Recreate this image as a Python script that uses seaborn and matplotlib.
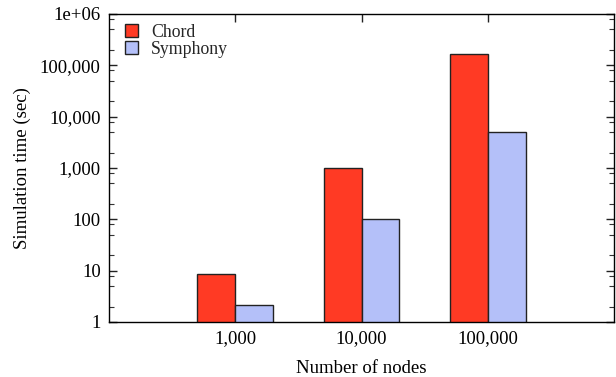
import matplotlib
matplotlib.use("Agg")
import matplotlib.pyplot as plt
import matplotlib.ticker as mticker
from matplotlib.patches import Patch
import seaborn as sns
import pandas as pd
import numpy as np

# ---- data ----
nodes = ["1,000", "10,000", "100,000"]
chord = [8.6, 1000, 168000]
symphony = [2.15, 100, 5000]
series = ["Chord", "Symphony"]
ytick_vals = [1, 10, 100, 1000, 10000, 100000, 1000000]
ytick_labels = ["1", "10", "100", "1,000", "10,000", "100,000", "1e+06"]
colors = ["#FF3A24", "#B4C0F9"]

df = pd.DataFrame({
    "nodes": nodes * 2,
    "time": chord + symphony,
    "system": [series[0]] * len(nodes) + [series[1]] * len(nodes),
})

sns.set_theme(style="ticks")
plt.rcParams["font.family"] = ["Liberation Serif", "DejaVu Serif"]

fig = plt.figure(figsize=(6.16, 3.77), dpi=100)
ax = fig.add_axes([0.177, 0.146, 0.820, 0.817])

sns.barplot(data=df, x="nodes", y="time", hue="system", palette=colors,
            saturation=1, width=0.6, edgecolor="#222222", linewidth=1.0, ax=ax,
            order=nodes, hue_order=series, legend=False)

ax.set_yscale("log")
ax.set_ylim(1, 1e6)
ax.set_xlim(-1, 3)

ax.yaxis.set_major_locator(mticker.FixedLocator(ytick_vals))
ax.yaxis.set_major_formatter(mticker.FixedFormatter(ytick_labels))
ax.yaxis.set_minor_locator(mticker.LogLocator(base=10, subs=(2.0, 5.0, 8.0)))
ax.yaxis.set_minor_formatter(mticker.NullFormatter())

ax.tick_params(axis="both", which="major", direction="in", length=6, width=1,
               color="#222222", labelsize=13.5, pad=6,
               top=True, right=True, labelcolor="black")
ax.tick_params(axis="y", which="minor", direction="in", length=3.5, width=0.8,
               color="#333333", right=True, left=True)

for s in ax.spines.values():
    s.set_visible(True)
    s.set_color("black")
    s.set_linewidth(1.0)

ax.set_xlabel("Number of nodes", fontsize=13.5, labelpad=9, color="black")
ax.set_ylabel("Simulation time (sec)", fontsize=13.5, labelpad=6, color="black")

handles = [Patch(facecolor=c, edgecolor="#222222", linewidth=1.0) for c in colors]
ax.legend(handles, series, loc="upper left", frameon=False, fontsize=12.8,
          handlelength=0.72, handleheight=0.75, handletextpad=0.75,
          labelspacing=0.0, borderaxespad=0.0, bbox_to_anchor=(0.018, 0.992))

fig.savefig("out.png", dpi=100)
